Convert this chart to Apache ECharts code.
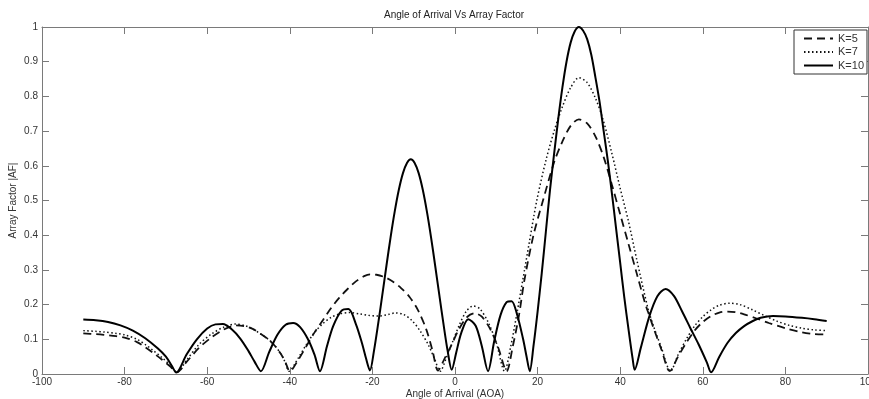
<!DOCTYPE html>
<html>
<head>
<meta charset="utf-8">
<script src="https://cdn.jsdelivr.net/npm/echarts@6/dist/echarts.min.js"></script>
<style>
html,body{margin:0;padding:0;background:#fff;}
#chart{width:869px;height:399px;}
</style>
</head>
<body>
<div id="chart"></div>
<script>
// Angle of arrival (deg) vs |AF|
const seriesNames = ['K=5', 'K=7', 'K=10'];
const xTicks = { min: -100, max: 100, step: 20 };
const yTicks = { min: 0, max: 1, step: 0.1 };

const k5 = [
  [-90,0.117],[-87,0.115],[-85,0.113],[-82,0.109],[-80,0.105],[-77,0.092],[-75,0.077],[-73,0.060],[-71,0.042],[-69,0.022],[-67.3,0.005],
  [-65,0.035],[-62,0.075],[-59,0.105],[-56,0.128],[-53,0.140],[-51,0.138],[-49,0.130],[-47,0.115],[-45,0.098],[-43.7,0.082],[-42,0.055],[-41,0.032],[-40,0.008],
  [-38,0.040],[-36,0.080],[-34,0.120],[-32,0.155],[-30,0.190],[-28,0.220],[-26,0.245],[-24,0.267],[-22,0.282],[-20.5,0.287],[-19,0.286],[-17,0.279],[-15,0.266],[-13,0.247],[-11,0.222],[-9,0.185],[-7,0.130],[-5.5,0.070],[-4.1,0.010],
  [-2.5,0.045],[-1,0.080],[1,0.130],[3,0.165],[4.8,0.175],[6.5,0.165],[8.5,0.130],[10.5,0.075],[12.5,0.008],
  [14,0.080],[15.5,0.170],[16.8,0.270],[19,0.400],[21.3,0.500],[24,0.610],[26,0.670],[28,0.715],[30,0.734],[32,0.722],[34,0.685],[36,0.625],[38,0.545],[40,0.460],[42,0.375],[44,0.290],[46,0.205],[47,0.170],[48,0.135],[50,0.070],[52,0.008],
  [54,0.050],[56,0.090],[58,0.125],[60,0.150],[62,0.167],[64,0.177],[66,0.180],[68,0.178],[70,0.172],[73,0.160],[76,0.147],[80,0.132],[84,0.120],[87,0.115],[90,0.114]
];

const k7 = [
  [-90,0.125],[-87,0.123],[-85,0.121],[-82,0.117],[-80,0.113],[-77,0.100],[-75,0.085],[-73,0.067],[-71,0.048],[-69,0.026],[-67.3,0.005],
  [-65,0.040],[-62,0.085],[-59,0.115],[-56,0.135],[-53.2,0.144],[-51,0.140],[-49,0.130],[-47,0.115],[-45,0.098],[-43.7,0.083],[-42,0.055],[-41,0.030],[-40.2,0.008],
  [-38,0.045],[-36,0.085],[-34,0.120],[-32,0.145],[-30,0.163],[-28,0.173],[-25.5,0.177],[-23,0.173],[-21,0.169],[-18.6,0.167],[-16,0.172],[-14.5,0.176],[-12.5,0.172],[-10.5,0.155],[-8.5,0.125],[-6.5,0.085],[-5,0.045],[-3.6,0.008],
  [-2,0.050],[-0.5,0.095],[1,0.140],[2.7,0.180],[4.4,0.196],[6,0.188],[8,0.150],[10,0.090],[12,0.008],
  [13.5,0.080],[15,0.175],[16.4,0.270],[18,0.380],[19.8,0.500],[22,0.615],[24,0.700],[26,0.770],[28,0.825],[30,0.854],[32,0.840],[34,0.795],[35.8,0.735],[38,0.635],[40,0.535],[42,0.440],[44,0.330],[46.7,0.190],[48,0.140],[50,0.075],[52.2,0.008],
  [54,0.055],[56,0.100],[58,0.138],[60,0.165],[62,0.185],[64,0.198],[66.5,0.204],[69,0.200],[72,0.185],[75,0.168],[78,0.152],[81,0.140],[84,0.132],[87,0.127],[90,0.125]
];

const k10 = [
  [-90,0.157],[-87,0.155],[-84,0.150],[-81,0.140],[-78,0.125],[-75,0.103],[-72,0.074],[-70,0.050],[-68.5,0.022],[-67.5,0.004],
  [-65,0.056],[-62.5,0.100],[-60,0.131],[-58,0.143],[-56.2,0.144],[-54,0.128],[-52,0.102],[-50,0.066],[-48.5,0.035],[-47,0.008],
  [-45,0.063],[-43,0.113],[-41,0.142],[-39.2,0.147],[-37.5,0.135],[-35.5,0.098],[-34,0.055],[-32.7,0.008],
  [-31,0.080],[-29.5,0.138],[-27.5,0.182],[-25.8,0.187],[-24,0.144],[-22.5,0.088],[-21.5,0.043],[-20.6,0.010],
  [-19.6,0.068],[-18.6,0.145],[-17.6,0.228],[-16.6,0.312],[-15.6,0.394],[-14.6,0.468],[-13.6,0.531],[-12.6,0.579],[-11.6,0.609],[-10.7,0.619],[-9.8,0.609],[-8.8,0.579],[-7.8,0.531],[-6.8,0.468],[-5.8,0.394],[-4.8,0.312],[-3.8,0.228],[-2.8,0.145],[-1.8,0.068],[-0.8,0.012],
  [0.3,0.062],[1.5,0.118],[3.2,0.158],[5,0.139],[6.5,0.080],[8,0.008],
  [9.5,0.095],[11,0.169],[12.5,0.207],[13.7,0.210],[15,0.173],[16.5,0.100],[17.3,0.052],[18.1,0.008],
  [19,0.080],[20,0.180],[21,0.290],[22,0.410],[23,0.530],[24,0.635],[25,0.735],[26,0.825],[27,0.900],[28,0.955],[29,0.988],[30,1.000],[31,0.990],[32,0.965],[33,0.920],[34,0.855],[35,0.785],[36,0.700],[37,0.615],[38,0.520],[39,0.420],[40,0.320],[41,0.220],[42,0.130],[43,0.045],[43.5,0.012],
  [45,0.076],[47,0.164],[49,0.224],[51,0.245],[53,0.225],[55,0.180],[57,0.132],[59,0.085],[61,0.033],[62,0.005],
  [64,0.050],[66,0.090],[68,0.118],[70,0.138],[72,0.152],[74,0.162],[77,0.167],[80,0.166],[84,0.162],[87,0.158],[90,0.153]
];

const FONT = 'Liberation Sans, Arial, sans-serif';
const AXIS_COLOR = '#7a7a7a';
const LABEL_COLOR = '#333';
const FS = 10;

function baseAxis(extra) {
  return Object.assign({
    type: 'value',
    nameMoveOverlap: false,
    axisLine: { show: true, onZero: false, lineStyle: { color: AXIS_COLOR, width: 1 } },
    axisTick: { show: true, inside: true, length: 7, lineStyle: { color: AXIS_COLOR, width: 1 } },
    splitLine: { show: false }
  }, extra);
}

const chart = echarts.init(document.getElementById('chart'), null, { renderer: 'canvas' });
chart.setOption({
  animation: false,
  backgroundColor: '#fff',
  textStyle: { fontFamily: FONT },
  title: {
    text: 'Angle of Arrival Vs Array Factor',
    left: 384, top: 10, padding: 0,
    textStyle: { fontSize: FS, fontWeight: 'normal', color: '#222', fontFamily: FONT }
  },
  legend: {
    data: seriesNames,
    orient: 'vertical',
    left: 794, top: 30,
    padding: [3, 3, 3, 9],
    itemWidth: 29, itemHeight: 10, itemGap: 2.5,
    itemStyle: { opacity: 0 },
    backgroundColor: '#fff',
    borderColor: '#333', borderWidth: 1,
    textStyle: { fontSize: 11, color: '#333', fontFamily: FONT }
  },
  grid: { left: 42, right: 1, top: 27, bottom: 25, containLabel: false, outerBoundsMode: 'none' },
  xAxis: [
    baseAxis({
      position: 'bottom', min: xTicks.min, max: xTicks.max, interval: xTicks.step,
      name: 'Angle of Arrival (AOA)', nameLocation: 'middle', nameGap: 15,
      nameTextStyle: { fontSize: FS, color: LABEL_COLOR, fontFamily: FONT },
      axisLabel: { margin: 3, fontSize: FS, color: LABEL_COLOR, showMinLabel: true, showMaxLabel: true, fontFamily: FONT }
    }),
    baseAxis({
      position: 'top', min: xTicks.min, max: xTicks.max, interval: xTicks.step,
      axisLabel: { show: false }
    })
  ],
  yAxis: [
    baseAxis({
      position: 'left', min: yTicks.min, max: yTicks.max, interval: yTicks.step,
      name: 'Array Factor |AF|', nameLocation: 'middle', nameGap: 24,
      nameTextStyle: { fontSize: FS, color: LABEL_COLOR, fontFamily: FONT },
      axisLabel: { margin: 4, fontSize: FS, color: LABEL_COLOR, fontFamily: FONT,
        formatter: v => String(Math.round(v * 10) / 10) }
    }),
    baseAxis({
      position: 'right', min: yTicks.min, max: yTicks.max, interval: yTicks.step,
      axisLabel: { show: false }
    })
  ],
  series: [
    { name: seriesNames[0], type: 'line', data: k5, symbol: 'none', smooth: 0.3, xAxisIndex: 0, yAxisIndex: 0,
      lineStyle: { color: '#111', width: 1.8, type: [8, 5] }, itemStyle: { color: '#111' } },
    { name: seriesNames[1], type: 'line', data: k7, symbol: 'none', smooth: 0.3, xAxisIndex: 0, yAxisIndex: 0,
      lineStyle: { color: '#111', width: 1.5, type: [1.5, 2.5] }, itemStyle: { color: '#111' } },
    { name: seriesNames[2], type: 'line', data: k10, symbol: 'none', smooth: 0.3, xAxisIndex: 0, yAxisIndex: 0,
      lineStyle: { color: '#000', width: 2 }, itemStyle: { color: '#000' } }
  ]
});
</script>
</body>
</html>
